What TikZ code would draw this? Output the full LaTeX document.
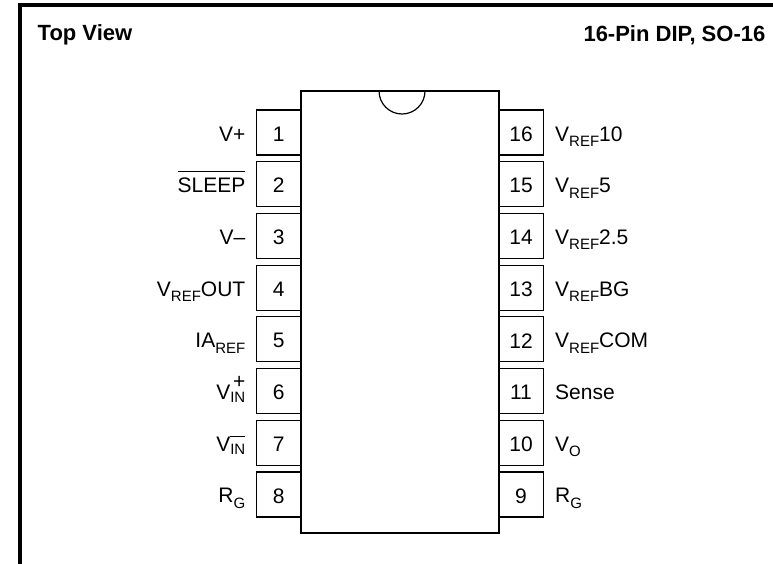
\documentclass[tikz,border=0pt]{standalone}
\usepackage{fontspec}
\setmainfont{Liberation Sans}
\newlength\ovlen
\newcommand\ovl[1]{\settowidth\ovlen{#1}\rlap{\rule[20.3pt]{\ovlen}{1.3pt}}#1}
\newcommand\subs[1]{\raisebox{-5.5pt}{\fontsize{15}{15}\selectfont #1}}
\newcommand\vinp{V\raisebox{-3pt}{\fontsize{15}{15}\selectfont\ooalign{IN\cr\hfil\raisebox{13.6pt}{\fontsize{21}{21}\selectfont+}\cr}}}
\newcommand\vinm{V\raisebox{-3pt}{\fontsize{15}{15}\selectfont\settowidth\ovlen{IN}\rlap{\rule[16.8pt]{\ovlen}{1.3pt}}IN}}
\tikzset{
  pinbox/.style={draw, line width=1.2pt, minimum width=44.5pt, minimum height=45pt, inner sep=0pt, outer sep=0pt},
  lbl/.style={font=\fontsize{21}{25}\selectfont, inner sep=0pt},
  ttl/.style={font=\bfseries\fontsize{22}{26}\selectfont, inner sep=0pt},
  chip/.style={draw, line width=2.6pt, fill=white, minimum width=198pt, minimum height=442pt, inner sep=0pt, outer sep=0pt}
}
\begin{document}
\begin{tikzpicture}[x=1pt,y=-1pt]
\useasboundingbox (0,0) rectangle (773,563);
\clip (0,0) rectangle (773,563);
\fill[white] (0,0) rectangle (773,563);
% frame
\coordinate (fa) at (19.7,600);
\coordinate (fb) at (19.7,4.7);
\coordinate (fc) at (800,4.7);
\draw[line width=3.6pt] (fa) -- (fb) -- (fc);
% titles
\node[ttl, anchor=base west] (tv) at (37.5,40.5) {Top View};
\node[ttl, anchor=base east] (pk) at (765.5,41) {16-Pin DIP, SO-16};
% left pins
\foreach \i in {1,...,8}{
  \pgfmathsetmacro\yc{132.5+(\i-1)*51.7}
  \node[pinbox] (p\i) at (278.75,\yc) {};
  \node[lbl] (n\i) at ([yshift=-1.4pt]p\i.center) {\i};
}
% right pins
\foreach \i in {9,...,16}{
  \pgfmathsetmacro\yc{132.5+(16-\i)*51.7}
  \node[pinbox] (p\i) at (521,\yc) {};
  \node[lbl] (n\i) at ([yshift=-1.4pt]p\i.center) {\i};
}
% body
\node[chip] (body) at (400,312) {};
\coordinate (nt) at (402,91);
\draw[line width=1.2pt] ([xshift=-23pt]nt) arc[start angle=180, end angle=360, radius=23pt];
\draw[line width=2.6pt] (body.north west) -- (body.north east);
% left labels
\foreach \i/\t in {1/{V+},2/{\ovl{SLEEP}},3/{V–},4/{V\subs{REF}OUT},5/{IA\subs{REF}},6/{\vinp},7/{\vinm},8/{R\subs{G}}}{
  \pgfmathsetmacro\yc{132.5+(\i-1)*51.7+8.5}
  \node[lbl, anchor=base east] (l\i) at (245.5,\yc) {\t};
}
% right labels
\foreach \i/\t in {16/{V\subs{REF}10},15/{V\subs{REF}5},14/{V\subs{REF}2.5},13/{V\subs{REF}BG},12/{V\subs{REF}COM},11/{Sense},10/{V\subs{O}},9/{R\subs{G}}}{
  \pgfmathsetmacro\yc{132.5+(16-\i)*51.7+8.5}
  \node[lbl, anchor=base west] (l\i) at (555,\yc) {\t};
}
\end{tikzpicture}
\end{document}
